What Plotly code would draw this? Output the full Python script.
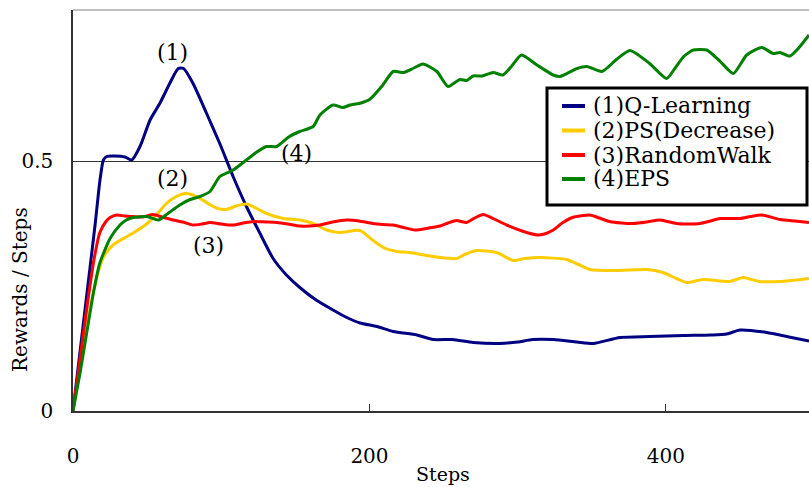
import plotly.graph_objects as go

# ---- data ----
steps_q = [0, 5, 10, 15, 18.2, 20.5, 22.7, 28, 35, 39.6, 45.2, 52, 58.7, 65.4, 71, 74.6, 81, 90, 99, 108,
           117, 126, 135, 144, 153, 164, 175.4, 184, 193.6, 205, 216, 232, 243, 256, 270, 288, 300, 310,
           324, 340, 351, 369, 389, 412, 430, 441, 450, 468, 483, 496.5]
q_learning = [0, 0.125, 0.25, 0.375, 0.462, 0.502, 0.509, 0.510, 0.508, 0.502, 0.529, 0.582, 0.616, 0.656,
              0.685, 0.685, 0.655, 0.596, 0.535, 0.469, 0.409, 0.356, 0.305, 0.272, 0.247, 0.222, 0.202,
              0.188, 0.176, 0.169, 0.159, 0.152, 0.143, 0.143, 0.137, 0.135, 0.138, 0.143, 0.143, 0.138,
              0.135, 0.147, 0.149, 0.151, 0.152, 0.154, 0.162, 0.157, 0.148, 0.140]

steps_ps = [0, 5, 10, 14, 18, 22, 27, 34, 40.6, 50, 57, 63, 69, 75.5, 80, 85.7, 94.6, 99, 103.6, 110, 117,
            124, 130.6, 142, 153, 162, 171, 180, 193.6, 202, 210, 218.4, 227, 237, 247.6, 258.7, 265,
            272.5, 285.7, 297, 305, 315, 333, 341, 348.7, 366.6, 387, 398, 407, 414, 425, 443, 452, 463,
            477, 496.5]
ps_decrease = [0, 0.09, 0.18, 0.24, 0.288, 0.315, 0.332, 0.345, 0.356, 0.375, 0.395, 0.415, 0.428, 0.435,
               0.433, 0.425, 0.409, 0.404, 0.403, 0.410, 0.414, 0.405, 0.395, 0.385, 0.382, 0.375, 0.362,
               0.357, 0.361, 0.342, 0.326, 0.319, 0.317, 0.312, 0.307, 0.305, 0.314, 0.321, 0.317, 0.301,
               0.305, 0.307, 0.303, 0.293, 0.283, 0.281, 0.283, 0.277, 0.265, 0.257, 0.263, 0.259, 0.267,
               0.259, 0.259, 0.265]

steps_rw = [0, 5, 10, 14, 18, 22, 25, 29.5, 35, 40.6, 47, 54, 60, 67.5, 74, 81, 87, 92.4, 100, 108, 115,
            121.6, 130, 137.4, 145, 153, 160, 166.6, 175, 184.6, 193, 202, 209, 216, 223, 230.7, 240,
            247.6, 253, 258.7, 265.5, 271, 276.8, 284, 292.5, 303, 313, 318, 324, 330, 337, 348.7, 355,
            362, 370, 378, 387, 396, 407, 415, 423, 430, 436.6, 450, 457, 464.6, 477, 487, 496.5]
random_walk = [0, 0.11, 0.22, 0.30, 0.356, 0.378, 0.387, 0.392, 0.390, 0.389, 0.388, 0.393, 0.388, 0.382,
               0.378, 0.372, 0.374, 0.377, 0.374, 0.372, 0.376, 0.379, 0.378, 0.377, 0.374, 0.370, 0.370,
               0.372, 0.378, 0.382, 0.380, 0.375, 0.373, 0.372, 0.367, 0.362, 0.366, 0.370, 0.376, 0.381,
               0.377, 0.386, 0.393, 0.384, 0.372, 0.360, 0.352, 0.354, 0.362, 0.376, 0.387, 0.392, 0.386,
               0.379, 0.376, 0.375, 0.378, 0.382, 0.375, 0.374, 0.375, 0.380, 0.385, 0.385, 0.389, 0.392,
               0.383, 0.380, 0.377]

steps_eps = [0, 5, 10, 14, 18, 25, 31.7, 36, 40.6, 50, 57.5, 64, 72, 79, 85.7, 92.4, 99, 103, 108, 117,
             124, 130.6, 137.4, 146, 153, 162, 166.6, 175.4, 182, 187, 193, 200, 209, 216, 223, 230, 236,
             245.5, 253, 261, 265.5, 270, 276, 283.5, 290, 296, 302.5, 313, 324, 328.5, 340, 346.7, 356.8,
             366.6, 375.7, 389, 400.5, 406, 412, 418.5, 427.5, 436.6, 445.5, 454.5, 464.6, 472.3, 477,
             483.6, 490.4, 496.5]
eps = [0, 0.08, 0.17, 0.24, 0.295, 0.345, 0.372, 0.382, 0.387, 0.389, 0.382, 0.395, 0.412, 0.423, 0.429,
       0.439, 0.469, 0.475, 0.482, 0.502, 0.518, 0.529, 0.529, 0.549, 0.559, 0.569, 0.592, 0.612, 0.607,
       0.612, 0.615, 0.623, 0.652, 0.679, 0.677, 0.686, 0.694, 0.679, 0.649, 0.663, 0.661, 0.670, 0.670,
       0.677, 0.672, 0.690, 0.712, 0.692, 0.672, 0.669, 0.685, 0.689, 0.679, 0.703, 0.721, 0.695, 0.665,
       0.685, 0.709, 0.722, 0.722, 0.699, 0.675, 0.712, 0.727, 0.715, 0.717, 0.710, 0.729, 0.752]

series_names = ["(1)Q-Learning", "(2)PS(Decrease)", "(3)RandomWalk", "(4)EPS"]
series_colors = ["#000080", "#ffcc00", "#ff0000", "#008000"]

x_tick_vals = [0, 200, 400]
y_tick_vals = [0, 0.5]
y_tick_text = ["0", "0.5"]

curve_labels = ["(1)", "(2)", "(3)", "(4)"]
label_x = [66.8, 66.8, 91.1, 151.1]
label_y = [0.718, 0.466, 0.332, 0.516]

FONT = "DejaVu Serif"
W, H = 809, 487
ML, MR, MT, MB = 73, 0, 10, 76
PW, PH = W - ML - MR, H - MT - MB


def px(x):  # pixel x -> paper x
    return (x - ML) / PW


def py(y):  # pixel y -> paper y
    return (H - MB - y) / PH


fig = go.Figure()
for xs, ys, name, col in zip([steps_q, steps_ps, steps_rw, steps_eps],
                             [q_learning, ps_decrease, random_walk, eps],
                             series_names, series_colors):
    fig.add_trace(go.Scatter(x=xs, y=ys, mode="lines", name=name, showlegend=False,
                             line=dict(color=col, width=3, shape="spline", smoothing=0.6)))

for t, lx, ly in zip(curve_labels, label_x, label_y):
    fig.add_annotation(x=lx, y=ly, text=t, showarrow=False,
                       font=dict(family=FONT, size=22, color="black"))

# axis titles
fig.add_annotation(xref="paper", yref="paper", x=0, xshift=-53, y=py(290), text="Rewards / Steps",
                   textangle=-90, showarrow=False, xanchor="center", yanchor="middle",
                   font=dict(family=FONT, size=20, color="black"))
fig.add_annotation(xref="paper", yref="paper", x=px(443), y=py(474), text="Steps",
                   showarrow=False, yanchor="middle", font=dict(family=FONT, size=19, color="black"))

# top frame line
fig.add_shape(type="line", xref="paper", yref="paper", x0=0, x1=1, y0=1, y1=1,
              line=dict(color="#aaaaaa", width=1.5))

# legend box (drawn manually to match the compact reference legend)
fig.add_shape(type="rect", xref="paper", yref="paper", x0=px(547), x1=px(807), y0=py(205), y1=py(88),
              line=dict(color="black", width=3), fillcolor="white", layer="above")
row_y = [106, 130.5, 155, 179]
for name, col, ry in zip(series_names, series_colors, row_y):
    fig.add_shape(type="line", xref="paper", yref="paper", x0=px(562), x1=px(585), y0=py(ry), y1=py(ry),
                  line=dict(color=col, width=4), layer="above")
    fig.add_annotation(xref="paper", yref="paper", x=px(591), y=py(ry), text=name, showarrow=False,
                       xanchor="left", yanchor="middle", font=dict(family=FONT, size=22, color="black"))

fig.update_layout(
    width=W, height=H,
    margin=dict(l=ML, r=MR, t=MT, b=MB),
    plot_bgcolor="white", paper_bgcolor="white",
    font=dict(family=FONT, size=20, color="black"),
    showlegend=False,
    xaxis=dict(range=[0, 496.5], tickvals=x_tick_vals, ticks="inside", ticklen=7,
               tickcolor="#333", showline=True, linecolor="#333", linewidth=1.5,
               showgrid=False, zeroline=False, ticklabelstandoff=26,
               tickfont=dict(family=FONT, size=20)),
    yaxis=dict(range=[0, 0.802], tickvals=y_tick_vals, ticktext=y_tick_text, ticks="",
               showline=True, linecolor="#333", linewidth=1.5,
               showgrid=True, gridcolor="#333", gridwidth=1, zeroline=False,
               ticklabelstandoff=14, tickfont=dict(family=FONT, size=20)),
)

fig.write_html("out.html", config={"displayModeBar": False},
               post_script="document.body.style.margin='0';document.body.style.overflow='hidden';")
